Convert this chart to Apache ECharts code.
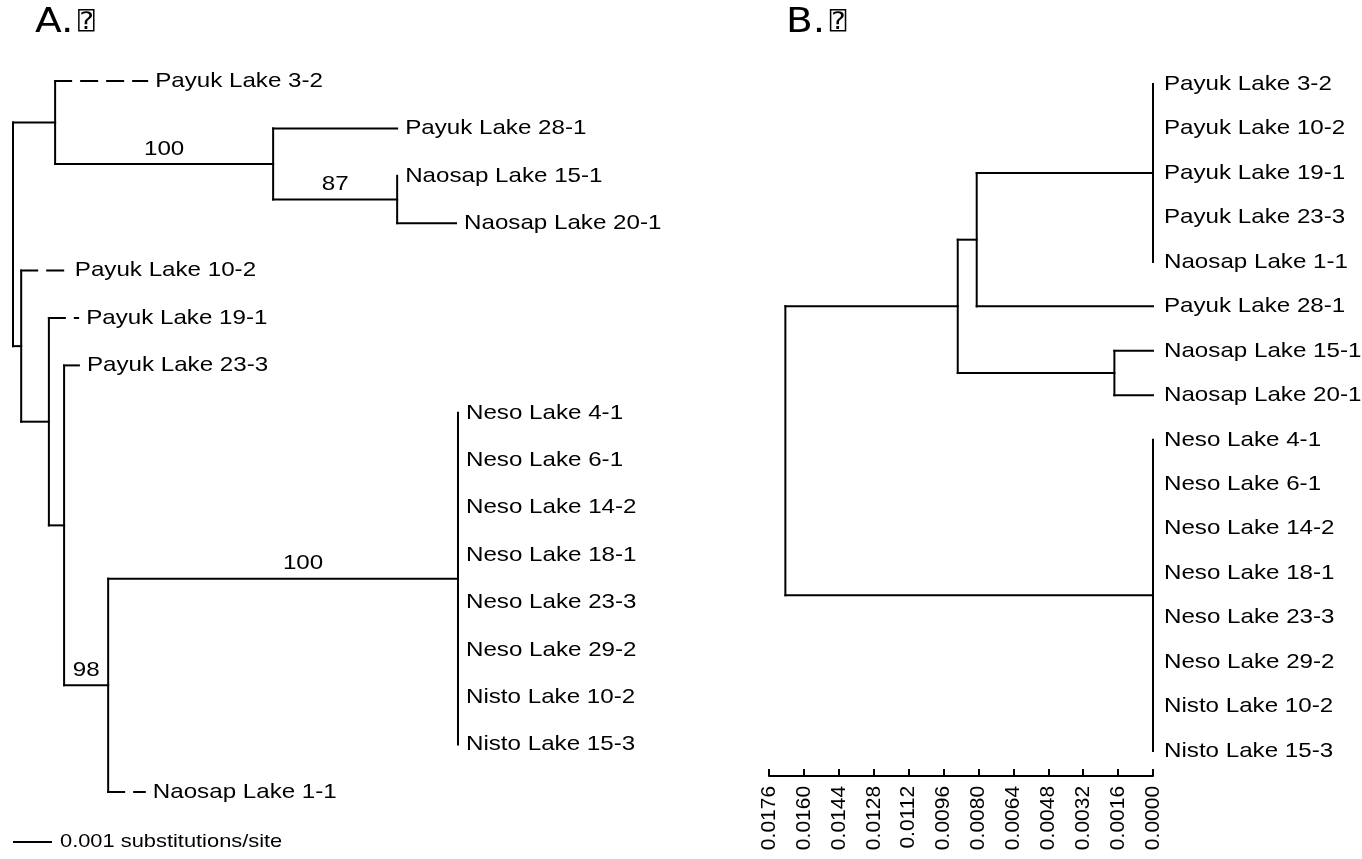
<!DOCTYPE html>
<html>
<head>
<meta charset="utf-8">
<script src="https://cdn.jsdelivr.net/npm/echarts@6/dist/echarts.min.js"></script>
<style>
  html, body { margin: 0; padding: 0; background: #fff; }
  #chart { width: 1362px; height: 859px; }
</style>
</head>
<body>
<div id="chart"></div>
<script>
// ---------- Tree A: maximum-likelihood tree, branch lengths in substitutions/site ----------
const edgeParentA = ['root', 'a1', 'a1', 'a2', 'a2', 'a3', 'a3',
  'root', 'a4', 'a4', 'a5', 'a5', 'a6', 'a6', 'a7',
  'a8', 'a8', 'a8', 'a8', 'a8', 'a8', 'a8', 'a8', 'a7'];
const edgeChildA = ['a1', 'Payuk Lake 3-2', 'a2', 'Payuk Lake 28-1', 'a3', 'Naosap Lake 15-1', 'Naosap Lake 20-1',
  'a4', 'Payuk Lake 10-2', 'a5', 'Payuk Lake 19-1', 'a6', 'Payuk Lake 23-3', 'a7', 'a8',
  'Neso Lake 4-1', 'Neso Lake 6-1', 'Neso Lake 14-2', 'Neso Lake 18-1', 'Neso Lake 23-3',
  'Neso Lake 29-2', 'Nisto Lake 10-2', 'Nisto Lake 15-3', 'Naosap Lake 1-1'];
const edgeLengthA = [0.00108, 0.00236, 0.00559, 0.00318, 0.00318, 0, 0.00151,
  0.00021, 0.00117, 0.00071, 0.00075, 0.00039, 0.00038, 0.00113, 0.00897,
  0, 0, 0, 0, 0, 0, 0, 0, 0.00094];
// bootstrap support (%) for the branch leading to each node
const supportNodeA = ['a2', 'a3', 'a7', 'a8'];
const supportValueA = [100, 87, 98, 100];
const scaleBarLength = 0.001;
const scaleBarText = '0.001 substitutions/site';

// ---------- Tree B: UPGMA tree, node heights in distance units ----------
const edgeParentB = ['root', 'b1', 'b2', 'b3', 'b3', 'b3', 'b3', 'b3', 'b2', 'b1', 'b4', 'b4',
  'root', 'b5', 'b5', 'b5', 'b5', 'b5', 'b5', 'b5', 'b5'];
const edgeChildB = ['b1', 'b2', 'b3', 'Payuk Lake 3-2', 'Payuk Lake 10-2', 'Payuk Lake 19-1', 'Payuk Lake 23-3',
  'Naosap Lake 1-1', 'Payuk Lake 28-1', 'b4', 'Naosap Lake 15-1', 'Naosap Lake 20-1',
  'b5', 'Neso Lake 4-1', 'Neso Lake 6-1', 'Neso Lake 14-2', 'Neso Lake 18-1', 'Neso Lake 23-3',
  'Neso Lake 29-2', 'Nisto Lake 10-2', 'Nisto Lake 15-3'];
const edgeLengthB = [0.0079, 0.00087, 0.00808, 0, 0, 0, 0, 0, 0.00808, 0.00718, 0.00177, 0.00177,
  0.01685, 0, 0, 0, 0, 0, 0, 0, 0];
const axisMaxB = 0.0176;
const axisStepB = 0.0016;

// panel headings
const headingA = 'A.';
const headingB = 'B.';
const headingMark = '\u2370';

// ---------- drawing styles ----------
const dashedTipsA = ['Payuk Lake 3-2', 'Payuk Lake 10-2', 'Payuk Lake 19-1', 'Payuk Lake 23-3', 'Naosap Lake 1-1'];
const LABEL_FONT = '21px "Liberation Sans", Arial, sans-serif';
const HEAD_FONT = '34px "DejaVu Sans", sans-serif';
const MARK_FONT = '24px "DejaVu Sans Mono", "DejaVu Sans", monospace';
const STRETCH = 1.15;

// Lay out a rectangular cladogram: tips get consecutive rows,
// internal nodes sit midway between their first and last child.
function layoutTree(parents, children, lengths) {
  const kids = {}, len = {};
  parents.forEach((p, i) => {
    (kids[p] = kids[p] || []).push(children[i]);
    len[children[i]] = lengths[i];
  });
  const depth = { root: 0 }, row = {}, tips = [], parentOf = {};
  let n = 0;
  (function walk(id) {
    if (!kids[id]) { row[id] = n++; tips.push(id); return; }
    kids[id].forEach(c => { parentOf[c] = id; depth[c] = depth[id] + len[c]; walk(c); });
    row[id] = (row[kids[id][0]] + row[kids[id][kids[id].length - 1]]) / 2;
  })('root');
  return { kids, len, depth, row, tips, parentOf };
}

// one vertical connector per internal node, one horizontal stroke per non-zero branch
function segmentsOf(tree, xOf, dashedSet) {
  const segs = [];
  Object.keys(tree.kids).forEach(id => {
    const k = tree.kids[id];
    segs.push([xOf(id), tree.row[k[0]], xOf(id), tree.row[k[k.length - 1]], 0]);
    k.forEach(c => {
      if (tree.len[c] > 0) {
        segs.push([xOf(id), tree.row[c], xOf(c), tree.row[c], dashedSet.includes(c) ? 1 : 0]);
      }
    });
  });
  return segs;
}

const treeA = layoutTree(edgeParentA, edgeChildA, edgeLengthA);
const xA = id => treeA.depth[id];
const segA = segmentsOf(treeA, xA, dashedTipsA);
const tipA = treeA.tips.map(t => [xA(t), treeA.row[t]]);
const supA = supportNodeA.map(nd => [(xA(treeA.parentOf[nd]) + xA(nd)) / 2, treeA.row[nd]]);

const treeB = layoutTree(edgeParentB, edgeChildB, edgeLengthB);
const rootHeightB = Math.max(...treeB.tips.map(t => treeB.depth[t]));
const xB = id => rootHeightB - treeB.depth[id];
const segB = segmentsOf(treeB, xB, []);
const tipB = treeB.tips.map(t => [xB(t), treeB.row[t]]);
const lastRow = treeA.tips.length - 1;

function lineItem(params, api) {
  const p1 = api.coord([api.value(0), api.value(1)]);
  const p2 = api.coord([api.value(2), api.value(3)]);
  const dashed = api.value(4) === 1;
  return {
    type: 'line',
    shape: { x1: p1[0], y1: p1[1], x2: p2[0], y2: p2[1] },
    style: { stroke: '#000', lineWidth: 2, lineCap: 'square', lineDash: dashed ? [16, 10] : null }
  };
}

function textEl(x, y, text, align, font) {
  return {
    type: 'text', x: x, y: y, scaleX: STRETCH,
    style: { text: text, font: font || LABEL_FONT, fill: '#000', align: align, verticalAlign: 'middle' }
  };
}

function heading(x, label) {
  return {
    type: 'text', x: x, y: 23, scaleX: STRETCH,
    style: {
      text: '{t|' + label + '}{m|' + headingMark + '}',
      fill: '#000', verticalAlign: 'middle',
      rich: {
        t: { font: HEAD_FONT, fill: '#000' },
        m: { font: MARK_FONT, fill: '#000', padding: [0, 0, 0, 4] }
      }
    }
  };
}

const supportNudge = { a8: 20 };

const chart = echarts.init(document.getElementById('chart'), null, { renderer: 'canvas' });
chart.setOption({
  animation: false,
  backgroundColor: '#fff',
  grid: [
    { left: 13, top: 81, width: 468, height: 711 },
    { left: 769, top: 84.1, width: 384, height: 666.8 }
  ],
  xAxis: [
    { gridIndex: 0, type: 'value', min: 0, max: 0.012, show: false },
    {
      gridIndex: 1, type: 'value', inverse: true, min: 0, max: axisMaxB, interval: axisStepB,
      position: 'bottom', offset: 25,
      axisLine: { show: true, onZero: false, lineStyle: { color: '#000', width: 2 } },
      axisTick: { show: true, inside: true, length: 7, lineStyle: { color: '#000', width: 2 } },
      axisLabel: {
        rotate: 90, margin: 10, color: '#000', fontSize: 21,
        fontFamily: '"Liberation Sans", Arial, sans-serif',
        formatter: v => v.toFixed(4)
      },
      splitLine: { show: false }
    }
  ],
  yAxis: [
    { gridIndex: 0, type: 'value', inverse: true, min: 0, max: lastRow, show: false },
    { gridIndex: 1, type: 'value', inverse: true, min: 0, max: lastRow, show: false }
  ],
  graphic: [heading(35, headingA), heading(786, headingB)],
  series: [
    { type: 'custom', name: 'branches A', xAxisIndex: 0, yAxisIndex: 0, data: segA, renderItem: lineItem, silent: true },
    {
      type: 'custom', name: 'taxa A', xAxisIndex: 0, yAxisIndex: 0, data: tipA, silent: true,
      renderItem: (params, api) => {
        const p = api.coord([api.value(0), api.value(1)]);
        return textEl(p[0] + 8, p[1], treeA.tips[params.dataIndex], 'left');
      }
    },
    {
      type: 'custom', name: 'support A', xAxisIndex: 0, yAxisIndex: 0, data: supA, silent: true,
      renderItem: (params, api) => {
        const p = api.coord([api.value(0), api.value(1)]);
        const nd = supportNodeA[params.dataIndex];
        return textEl(p[0] + (supportNudge[nd] || 0), p[1] - 15, String(supportValueA[params.dataIndex]), 'center');
      }
    },
    {
      type: 'custom', name: 'scale bar', xAxisIndex: 0, yAxisIndex: 0, data: [[0, scaleBarLength]], silent: true,
      renderItem: (params, api) => {
        const p0 = api.coord([api.value(0), lastRow]);
        const p1 = api.coord([api.value(1), lastRow]);
        const y = p0[1] + 50;
        return {
          type: 'group',
          children: [
            { type: 'line', shape: { x1: p0[0], y1: y, x2: p1[0], y2: y }, style: { stroke: '#000', lineWidth: 2 } },
            textEl(p1[0] + 8, y, scaleBarText, 'left', '19px "Liberation Sans", Arial, sans-serif')
          ]
        };
      }
    },
    { type: 'custom', name: 'branches B', xAxisIndex: 1, yAxisIndex: 1, data: segB, renderItem: lineItem, silent: true },
    {
      type: 'custom', name: 'taxa B', xAxisIndex: 1, yAxisIndex: 1, data: tipB, silent: true,
      renderItem: (params, api) => {
        const p = api.coord([api.value(0), api.value(1)]);
        return textEl(p[0] + 11, p[1], treeB.tips[params.dataIndex], 'left');
      }
    }
  ]
});
</script>
</body>
</html>
